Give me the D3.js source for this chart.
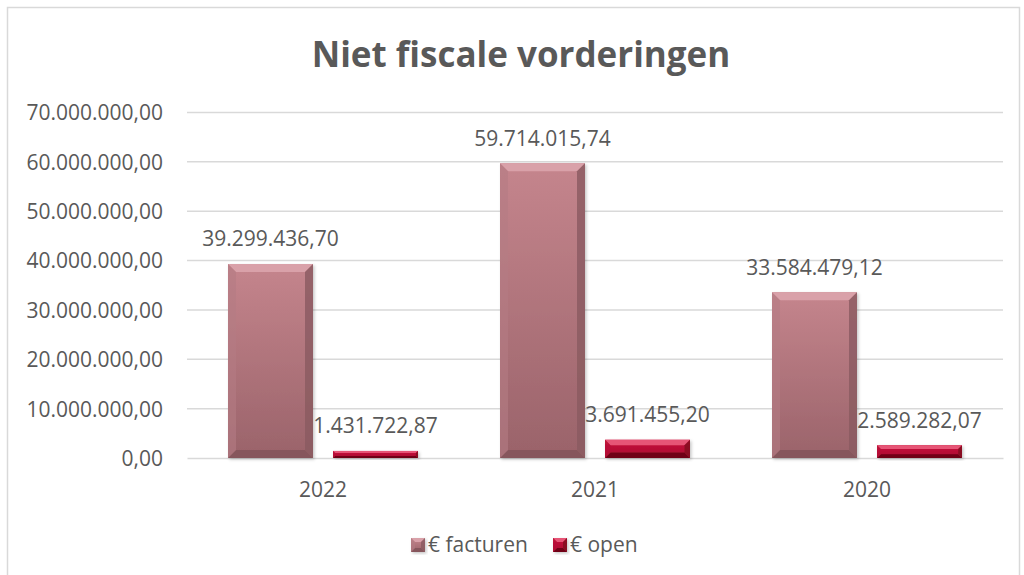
<!DOCTYPE html>
<html>
<head>
<meta charset="utf-8">
<script src="https://cdn.jsdelivr.net/npm/d3@7"></script>
<style>
  html, body { margin: 0; padding: 0; background: #fff; }
  svg { display: block; }
  text { font-family: "Open Sans", "Noto Sans", sans-serif; fill: #595959; }
</style>
</head>
<body>
<svg id="chart" width="1024" height="575"></svg>
<script>
// Chart data
const years = ["2022", "2021", "2020"];
const seriesNames = ["€ facturen", "€ open"];
const facturen = [39299436.70, 59714015.74, 33584479.12];
const open = [1431722.87, 3691455.20, 2589282.07];
const yTicks = [0, 10000000, 20000000, 30000000, 40000000, 50000000, 60000000, 70000000];
const titleText = "Niet fiscale vorderingen";

const rows = years.map((y, i) => ({ year: y, values: [facturen[i], open[i]] }));

const nl = d3.formatLocale({ decimal: ",", thousands: ".", grouping: [3], currency: ["€", ""] });
const fmt = nl.format(",.2f");

const svg = d3.select("#chart");
const plot = { left: 187, right: 1003, top: 112.5, bottom: 458 };

// Outer chart frame
svg.append("rect")
  .attr("x", 7.5).attr("y", 7.5).attr("width", 1012).attr("height", 620)
  .attr("fill", "#fff").attr("stroke", "#d9d9d9").attr("stroke-width", 1.5);

const x0 = d3.scaleBand().domain(years).range([plot.left, plot.right]).paddingInner(0).paddingOuter(0);
const groupW = 190;
const x1 = d3.scaleBand().domain(d3.range(2))
  .range([(x0.bandwidth() - groupW) / 2, (x0.bandwidth() + groupW) / 2])
  .paddingInner(20 / 105).paddingOuter(0);
const y = d3.scaleLinear().domain([0, 70000000]).range([plot.bottom, plot.top]);

// Title
svg.append("text")
  .attr("x", 521).attr("y", 67)
  .attr("text-anchor", "middle")
  .style("font-size", "35px").style("font-weight", "700")
  .text(titleText);

// Gridlines
svg.append("g")
  .selectAll("line").data(yTicks.filter(t => t > 0)).join("line")
  .attr("x1", plot.left).attr("x2", plot.right)
  .attr("y1", d => y(d)).attr("y2", d => y(d))
  .attr("stroke", "#d9d9d9").attr("stroke-width", 1.5);

// Y axis labels
const yAxis = d3.axisLeft(y).tickValues(yTicks).tickFormat(fmt).tickSize(0).tickPadding(24);
const gy = svg.append("g").attr("transform", `translate(${plot.left},0)`).call(yAxis);
gy.select(".domain").remove();
gy.selectAll("text").style("font-size", "21px").attr("fill", "#595959").attr("dy", "0.35em");

// Category axis
const xAxis = d3.axisBottom(x0).tickSize(0).tickPadding(24);
const gx = svg.append("g").attr("transform", `translate(0,${plot.bottom})`).call(xAxis);
gx.select(".domain").attr("stroke", "#d9d9d9").attr("stroke-width", 1.5);
gx.selectAll("text").style("font-size", "21px").attr("fill", "#595959");

// Bevel palettes
const palettes = [
  { top: "#c5858d", bottom: "#9a636a", hi: "#d9a1a9", lo: "#86565c", side: "#8a5a60", lside: "#b47c84" },
  { top: "#c8143c", bottom: "#a80a30", hi: "#e65476", lo: "#700418", side: "#80081f", lside: "#b81238" }
];

const defs = svg.append("defs");
palettes.forEach((p, i) => {
  const g = defs.append("linearGradient").attr("id", "grad" + i)
    .attr("x1", 0).attr("y1", 0).attr("x2", 0).attr("y2", 1);
  g.append("stop").attr("offset", "0%").attr("stop-color", p.top);
  g.append("stop").attr("offset", "100%").attr("stop-color", p.bottom);
});
const shadow = defs.append("filter").attr("id", "shadow").attr("x", "-20%").attr("y", "-20%").attr("width", "140%").attr("height", "140%");
shadow.append("feDropShadow").attr("dx", 1.5).attr("dy", 1.5).attr("stdDeviation", 1.5)
  .attr("flood-color", "#000").attr("flood-opacity", 0.22);

function bevelBar(g, x, yTop, w, h, si, maxB) {
  const p = palettes[si];
  const b = Math.min(maxB, h * 0.3, w / 2);
  const grp = g.append("g").attr("filter", "url(#shadow)");
  grp.append("rect").attr("x", x).attr("y", yTop).attr("width", w).attr("height", h)
    .attr("fill", `url(#grad${si})`);
  const poly = pts => pts.map(q => q.join(",")).join(" ");
  grp.append("polygon").attr("points", poly([[x, yTop], [x + w, yTop], [x + w - b, yTop + b], [x + b, yTop + b]]))
    .attr("fill", p.hi);
  grp.append("polygon").attr("points", poly([[x, yTop + h], [x + w, yTop + h], [x + w - b, yTop + h - b], [x + b, yTop + h - b]]))
    .attr("fill", p.lo);
  grp.append("polygon").attr("points", poly([[x + w, yTop], [x + w, yTop + h], [x + w - b, yTop + h - b], [x + w - b, yTop + b]]))
    .attr("fill", p.side).attr("opacity", 0.8);
  grp.append("polygon").attr("points", poly([[x, yTop], [x, yTop + h], [x + b, yTop + h - b], [x + b, yTop + b]]))
    .attr("fill", p.lside).attr("opacity", 0.6);
}

// Bars
const barsG = svg.append("g");
rows.forEach(r => {
  r.values.forEach((v, si) => {
    const bx = x0(r.year) + x1(si);
    const by = y(v);
    bevelBar(barsG, bx, by, x1.bandwidth(), y(0) - by, si, 8);
  });
});

// Data labels
const labelsG = svg.append("g");
rows.forEach(r => {
  r.values.forEach((v, si) => {
    labelsG.append("text")
      .attr("x", x0(r.year) + x1(si) + x1.bandwidth() / 2)
      .attr("y", y(v) - 25)
      .attr("dy", "0.35em")
      .attr("text-anchor", "middle")
      .style("font-size", "21px")
      .text(fmt(v));
  });
});

// Legend
const legend = svg.append("g");
const legendItems = [{ x: 411, tx: 428 }, { x: 553, tx: 570 }];
seriesNames.forEach((name, si) => {
  bevelBar(legend, legendItems[si].x, 538, 14, 14, si, 4);
  legend.append("text").attr("x", legendItems[si].tx).attr("y", 545).attr("dy", "0.35em")
    .style("font-size", "21px").text(name);
});
</script>
</body>
</html>
